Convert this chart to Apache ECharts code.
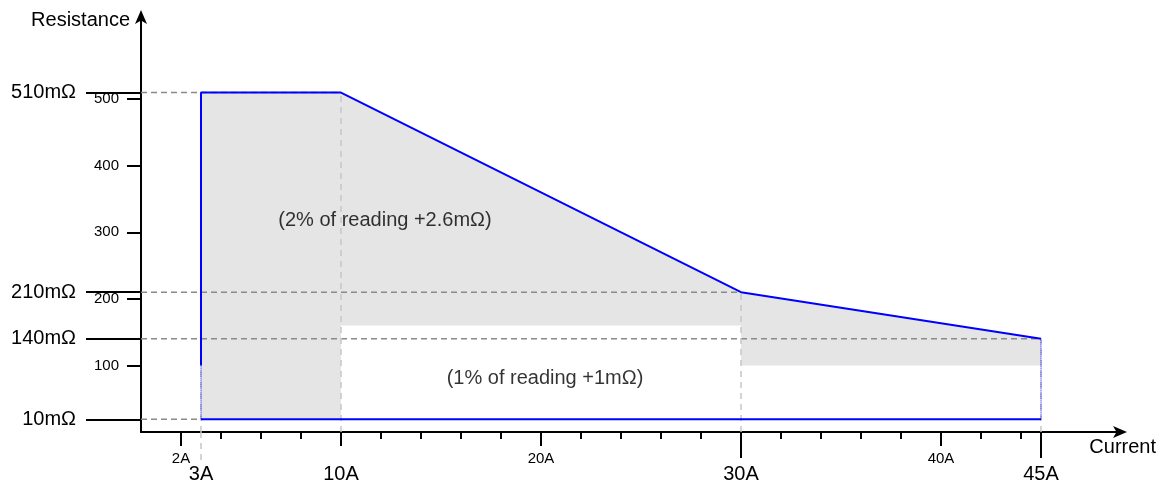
<!DOCTYPE html>
<html>
<head>
<meta charset="utf-8">
<title>Resistance vs Current</title>
<script src="https://cdn.jsdelivr.net/npm/echarts@6/dist/echarts.min.js"></script>
<style>
  html, body { margin: 0; padding: 0; background: #fff; }
  #chart { width: 1163px; height: 484px; }
</style>
</head>
<body>
<div id="chart"></div>
<script>
// corner points of the accuracy region (current in A, resistance in mΩ)
const currentPts = [3, 10, 30, 45];
const upperLimit = [510, 510, 210, 140];
// bottom of the grey band for each segment 3-10, 10-30, 30-45
const bandFloor = [19, 160, 100];
// lower blue line, and where the solid left edge turns dotted
const floorLevel = 19;
const leftSolidFrom = 100;

// labelled resistance levels on the y axis and the current each guide runs to
const levelValues = [510, 210, 140, 19];
const levelLabels = ['510mΩ', '210mΩ', '140mΩ', '10mΩ'];
const levelCurrents = [10, 30, 45, 3];

// axis ticks
const yMinorTicks = [100, 200, 300, 400, 500];
const xMinorTicks = [4, 6, 8, 12, 14, 16, 18, 22, 24, 26, 28, 32, 34, 36, 38, 42, 44];
const xMidTicks = [2, 10, 20, 40];
const xSmallLabels = [2, 20, 40];
const xLongTicks = [30, 45];
const xBigLabels = [3, 10, 30, 45];

// annotation texts
const noteTexts = ['(2% of reading +2.6mΩ)', '(1% of reading +1mΩ)'];
const notePos = [[12.2, 318], [20.2, 81]];

const X_MAX = 49;
const Y_MAX = 625;
const FONT = 'Liberation Sans, Arial, sans-serif';

const chart = echarts.init(document.getElementById('chart'));

// outline of the grey region, built from the arrays above
const bandOutline = [[currentPts[0], bandFloor[0]]];
currentPts.forEach((x, i) => bandOutline.push([x, upperLimit[i]]));
for (let i = currentPts.length - 1; i >= 1; i--) {
  bandOutline.push([currentPts[i], bandFloor[i - 1]]);
  bandOutline.push([currentPts[i - 1], bandFloor[i - 1]]);
}

const baseX = { type: 'value', min: 0, max: X_MAX, position: 'bottom', splitLine: { show: false } };
const baseY = { type: 'value', min: 0, max: Y_MAX, position: 'left', splitLine: { show: false } };

const lineSeries = (data, color, width, type) => ({
  type: 'line',
  xAxisIndex: 0,
  yAxisIndex: 0,
  data: data,
  symbol: 'none',
  silent: true,
  lineStyle: { color: color, width: width, type: type }
});

const series = [
  {
    type: 'custom',
    xAxisIndex: 0,
    yAxisIndex: 0,
    silent: true,
    data: [[0, 0]],
    renderItem: (params, api) => ({
      type: 'polygon',
      shape: { points: bandOutline.map(p => api.coord(p)) },
      style: { fill: '#e5e5e5' }
    })
  }
];

// horizontal guides from the axis to each corner
levelValues.forEach((v, i) => {
  series.push(lineSeries([[0, v], [levelCurrents[i], v]], '#8a8a8a', 1.5, [6, 4]));
});
// vertical guides from the axis up to each corner
currentPts.forEach((x, i) => {
  series.push(lineSeries([[x, 0], [x, upperLimit[i]]], '#c6c6c6', 1.5, [6, 5]));
});

// blue boundary
series.push(lineSeries(
  [[currentPts[0], leftSolidFrom]].concat(currentPts.map((x, i) => [x, upperLimit[i]])),
  '#0000ff', 2, 'solid'));
series.push(lineSeries([[currentPts[0], floorLevel], [currentPts[currentPts.length - 1], floorLevel]], '#0000ff', 2, 'solid'));
series.push(lineSeries([[currentPts[0], floorLevel], [currentPts[0], leftSolidFrom]], '#0000ff', 1, 'dotted'));
series.push(lineSeries([[currentPts[3], floorLevel], [currentPts[3], upperLimit[3]]], '#0000ff', 1, 'dotted'));

// annotations
series.push({
  type: 'scatter',
  xAxisIndex: 0,
  yAxisIndex: 0,
  silent: true,
  symbolSize: 0,
  data: notePos,
  label: {
    show: true,
    position: 'inside',
    color: '#000',
    fontSize: 20,
    fontFamily: FONT,
    formatter: p => noteTexts[p.dataIndex]
  }
});

const option = {
  animation: false,
  backgroundColor: '#fff',
  grid: { left: 141, right: 42, top: 16, bottom: 51, containLabel: false },
  xAxis: [
    Object.assign({}, baseX, {
      name: 'Current',
      nameLocation: 'end',
      nameGap: 35,
      nameTextStyle: { color: '#000', fontSize: 20, fontFamily: FONT, align: 'right', verticalAlign: 'top', padding: [5, 0, 0, 0] },
      axisLine: { show: true, onZero: false, symbol: ['none', 'arrow'], symbolSize: [9, 14], symbolOffset: [0, 6], lineStyle: { color: '#000', width: 2 } },
      axisTick: { show: true, customValues: xMinorTicks, length: 7, lineStyle: { color: '#000', width: 2 } },
      axisLabel: { show: false }
    }),
    Object.assign({}, baseX, {
      axisLine: { show: false },
      axisTick: { show: true, customValues: xMidTicks, length: 14, lineStyle: { color: '#000', width: 2 } },
      axisLabel: { show: true, customValues: xSmallLabels, margin: 19, fontSize: 15, fontFamily: FONT, color: '#000', formatter: v => v + 'A' }
    }),
    Object.assign({}, baseX, {
      axisLine: { show: false },
      axisTick: { show: true, customValues: xLongTicks, length: 26, lineStyle: { color: '#000', width: 2 } },
      axisLabel: { show: true, customValues: xBigLabels, margin: 32, fontSize: 20, fontFamily: FONT, color: '#000', formatter: v => v + 'A' }
    }),
    Object.assign({}, baseX, {
      axisLine: { show: false },
      axisTick: { show: true, customValues: [currentPts[0]], length: 29, lineStyle: { color: '#c6c6c6', width: 1.5, type: [6, 5] } },
      axisLabel: { show: false }
    })
  ],
  yAxis: [
    Object.assign({}, baseY, {
      name: 'Resistance',
      nameLocation: 'end',
      nameGap: -4,
      nameTextStyle: { color: '#000', fontSize: 20, fontFamily: FONT, align: 'right', verticalAlign: 'middle', padding: [0, 11, 0, 0] },
      axisLine: { show: true, onZero: false, symbol: ['none', 'arrow'], symbolSize: [9, 14], symbolOffset: [0, 6], lineStyle: { color: '#000', width: 2 } },
      axisTick: { show: true, customValues: yMinorTicks, length: 14, lineStyle: { color: '#000', width: 2 } },
      axisLabel: { show: true, customValues: yMinorTicks, margin: 22, fontSize: 15, fontFamily: FONT, color: '#000' }
    }),
    Object.assign({}, baseY, {
      axisLine: { show: false },
      axisTick: { show: true, customValues: levelValues, length: 55, lineStyle: { color: '#000', width: 2 } },
      axisLabel: {
        show: true,
        customValues: levelValues,
        margin: 65,
        fontSize: 20,
        fontFamily: FONT,
        color: '#000',
        formatter: v => levelLabels[levelValues.indexOf(v)]
      }
    })
  ],
  series: series
};

chart.setOption(option);
</script>
</body>
</html>
